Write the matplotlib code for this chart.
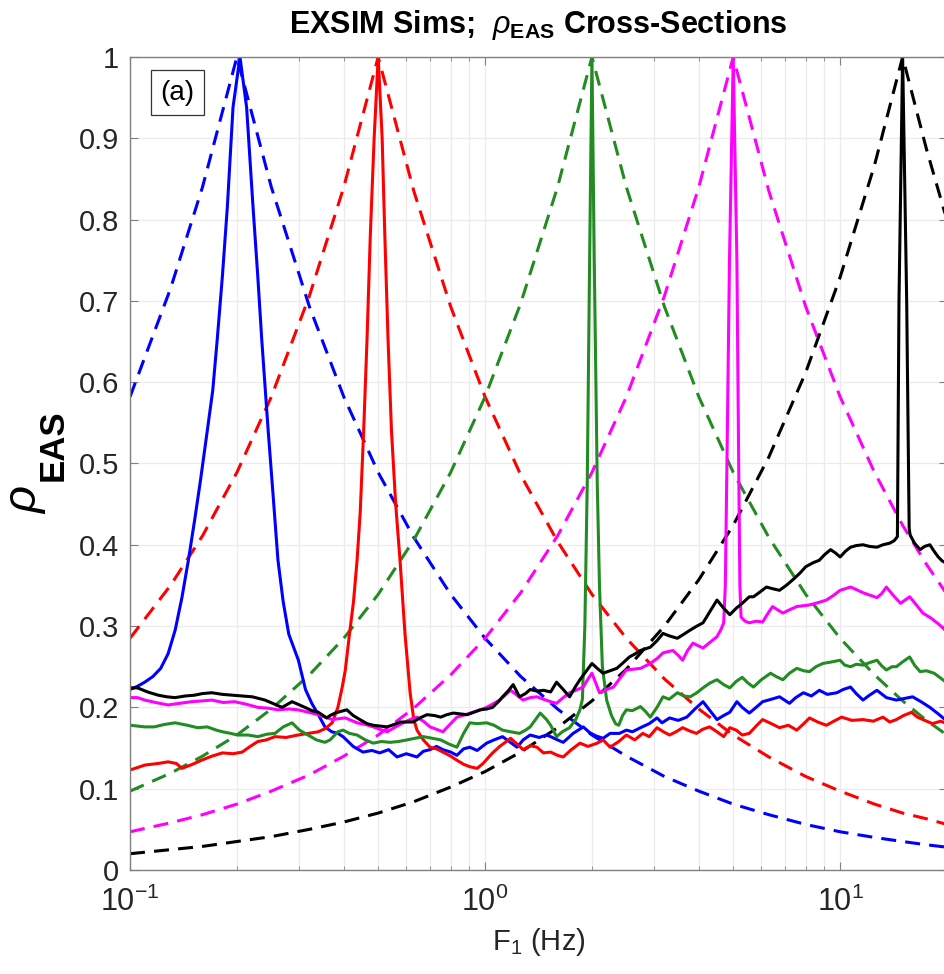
"""
EXSIM sims: rho_EAS cross-sections vs F1, dashed = model, solid = sims.
"""
import numpy as np
import matplotlib
matplotlib.use('Agg')
import matplotlib.pyplot as plt
from matplotlib.ticker import FixedLocator, LogLocator, NullFormatter

plt.rcParams['font.family'] = ['Liberation Sans', 'DejaVu Sans']
plt.rcParams['mathtext.fontset'] = 'custom'
plt.rcParams['mathtext.rm'] = 'Liberation Sans'
plt.rcParams['mathtext.it'] = 'Liberation Sans:italic'
plt.rcParams['mathtext.bf'] = 'Liberation Sans:bold'

# colours for F2 = 0.2, 0.5, 2, 5, 15 Hz
colors = ['#0000ff', '#ff0000', '#228b22', '#ff00ff', '#000000']

# dashed model curves, common frequency grid
f_model = [0.1, 0.13, 0.16, 0.2, 0.25, 0.32, 0.4, 0.5, 0.63, 0.8, 1.0, 1.26, 1.6,
           2.0, 2.5, 3.2, 4.0, 5.0, 6.3, 8.0, 10, 12.5, 15, 17.5, 20]
model_blue = [0.582, 0.715, 0.840, 1.0, 0.840, 0.693, 0.582, 0.489, 0.409, 0.339, 0.285,
              0.238, 0.198, 0.166, 0.140, 0.115, 0.097, 0.081, 0.068, 0.056, 0.047,
              0.040, 0.035, 0.031, 0.028]
model_red = [0.285, 0.350, 0.411, 0.489, 0.582, 0.706, 0.840, 1.0, 0.835, 0.693, 0.582,
             0.486, 0.404, 0.339, 0.285, 0.235, 0.198, 0.166, 0.139, 0.115, 0.097,
             0.081, 0.070, 0.063, 0.056]
model_green = [0.097, 0.119, 0.140, 0.166, 0.198, 0.240, 0.285, 0.339, 0.406, 0.489,
               0.582, 0.697, 0.840, 1.0, 0.840, 0.693, 0.582, 0.489, 0.409, 0.339,
               0.285, 0.240, 0.208, 0.184, 0.166]
model_magenta = [0.047, 0.058, 0.068, 0.081, 0.097, 0.117, 0.140, 0.166, 0.199, 0.240,
                 0.285, 0.341, 0.411, 0.489, 0.582, 0.706, 0.840, 1.0, 0.835, 0.693,
                 0.582, 0.489, 0.424, 0.376, 0.339]
model_black = [0.020, 0.025, 0.029, 0.035, 0.041, 0.050, 0.059, 0.070, 0.084, 0.102,
               0.121, 0.145, 0.175, 0.208, 0.247, 0.300, 0.357, 0.424, 0.508, 0.612,
               0.729, 0.867, 1.0, 0.887, 0.799]

# solid simulation curves
f_blue = [0.1, 0.105, 0.11, 0.116, 0.122, 0.128, 0.134, 0.14, 0.146, 0.152, 0.158, 0.165,
          0.171, 0.176, 0.182, 0.188, 0.195, 0.204, 0.213, 0.222, 0.229, 0.235, 0.245,
          0.253, 0.261, 0.27, 0.28, 0.298, 0.312, 0.325, 0.34, 0.354, 0.37, 0.385, 0.398,
          0.425, 0.453, 0.48, 0.505, 0.535, 0.565, 0.6, 0.643, 0.67, 0.70, 0.73, 0.761,
          0.80, 0.833, 0.87, 0.906, 0.95, 1.01, 1.06, 1.12, 1.17, 1.23, 1.28, 1.34, 1.42,
          1.49, 1.53, 1.6, 1.66, 1.72, 1.77, 1.83, 1.89, 1.97, 2.05, 2.15, 2.25, 2.39, 2.5,
          2.6, 2.74, 2.9, 3.05, 3.15, 3.31, 3.5, 3.7, 3.9, 4.11, 4.3, 4.5, 4.7, 4.89, 5.12,
          5.3, 5.55, 5.8, 6.05, 6.4, 6.75, 7.2, 7.5, 7.88, 8.3, 8.74, 9.2, 9.79, 10.2, 10.7,
          11.1, 11.6, 12.1, 12.7, 13.5, 14.4, 15.2, 16.0, 16.9, 17.9, 18.9, 20]
rho_blue = [0.222, 0.226, 0.231, 0.238, 0.248, 0.266, 0.295, 0.335, 0.381, 0.43, 0.48,
            0.54, 0.59, 0.652, 0.73, 0.816, 0.938, 1.0, 0.938, 0.816, 0.73, 0.652, 0.54,
            0.46, 0.381, 0.33, 0.29, 0.258, 0.222, 0.205, 0.19, 0.176, 0.17, 0.168, 0.164,
            0.152, 0.145, 0.147, 0.144, 0.148, 0.139, 0.143, 0.139, 0.146, 0.148, 0.152,
            0.148, 0.145, 0.141, 0.149, 0.151, 0.147, 0.156, 0.16, 0.164, 0.158, 0.151,
            0.16, 0.166, 0.163, 0.166, 0.164, 0.16, 0.157, 0.163, 0.168, 0.172, 0.176,
            0.169, 0.165, 0.162, 0.168, 0.168, 0.172, 0.17, 0.175, 0.18, 0.187, 0.181,
            0.187, 0.184, 0.188, 0.198, 0.207, 0.196, 0.185, 0.19, 0.194, 0.207, 0.2, 0.193,
            0.2, 0.207, 0.21, 0.213, 0.205, 0.212, 0.218, 0.214, 0.221, 0.216, 0.218, 0.222,
            0.225, 0.217, 0.209, 0.215, 0.221, 0.212, 0.209, 0.211, 0.213, 0.207, 0.2,
            0.192, 0.183]

f_red = [0.1, 0.105, 0.11, 0.12, 0.128, 0.135, 0.14, 0.15, 0.159, 0.17, 0.182, 0.195,
         0.207, 0.218, 0.229, 0.242, 0.256, 0.275, 0.297, 0.318, 0.339, 0.355, 0.371,
         0.385, 0.396, 0.404, 0.415, 0.426, 0.436, 0.445, 0.455, 0.465, 0.475, 0.487, 0.5,
         0.513, 0.522, 0.533, 0.545, 0.56, 0.576, 0.595, 0.615, 0.63, 0.643, 0.67, 0.70,
         0.73, 0.761, 0.80, 0.833, 0.87, 0.906, 0.95, 0.987, 1.02, 1.05, 1.1, 1.18, 1.23,
         1.28, 1.34, 1.40, 1.46, 1.53, 1.6, 1.66, 1.75, 1.85, 1.95, 2.07, 2.15, 2.25, 2.38,
         2.5, 2.64, 2.78, 2.9, 3.05, 3.18, 3.31, 3.45, 3.6, 3.77, 3.94, 4.1, 4.29, 4.5,
         4.7, 4.89, 5.1, 5.3, 5.55, 5.8, 6.05, 6.4, 6.75, 7.15, 7.55, 7.9, 8.2, 8.65, 9.15,
         9.6, 10.1, 10.8, 11.6, 12.4, 13.2, 13.8, 14.4, 15.1, 15.9, 16.5, 17.1, 18.2, 19.2, 20]
rho_red = [0.123, 0.126, 0.129, 0.131, 0.133, 0.131, 0.125, 0.13, 0.135, 0.14, 0.144,
           0.143, 0.145, 0.152, 0.158, 0.16, 0.164, 0.163, 0.166, 0.168, 0.17, 0.174,
           0.181, 0.2, 0.225, 0.246, 0.29, 0.33, 0.381, 0.44, 0.54, 0.652, 0.78, 0.9, 1.0,
           0.9, 0.78, 0.652, 0.54, 0.45, 0.381, 0.29, 0.218, 0.185, 0.172, 0.16, 0.151,
           0.149, 0.145, 0.14, 0.135, 0.13, 0.127, 0.125, 0.131, 0.138, 0.144, 0.152,
           0.162, 0.155, 0.148, 0.153, 0.151, 0.144, 0.145, 0.141, 0.139, 0.148, 0.156,
           0.152, 0.156, 0.16, 0.151, 0.158, 0.166, 0.16, 0.168, 0.164, 0.175, 0.17, 0.166,
           0.17, 0.175, 0.171, 0.168, 0.173, 0.176, 0.17, 0.164, 0.175, 0.172, 0.166, 0.168,
           0.177, 0.185, 0.18, 0.175, 0.178, 0.172, 0.18, 0.187, 0.182, 0.178, 0.183, 0.188,
           0.184, 0.185, 0.183, 0.188, 0.182, 0.185, 0.19, 0.194, 0.188, 0.185, 0.18,
           0.183, 0.18]

f_green = [0.1, 0.105, 0.11, 0.117, 0.125, 0.134, 0.145, 0.155, 0.165, 0.175, 0.182, 0.192,
           0.201, 0.215, 0.229, 0.243, 0.256, 0.27, 0.286, 0.3, 0.317, 0.335, 0.354, 0.366,
           0.385, 0.398, 0.415, 0.436, 0.46, 0.484, 0.51, 0.541, 0.57, 0.603, 0.635, 0.67,
           0.71, 0.75, 0.79, 0.833, 0.87, 0.906, 0.95, 1.01, 1.06, 1.12, 1.18, 1.25, 1.3,
           1.34, 1.43, 1.49, 1.53, 1.59, 1.65, 1.73, 1.8, 1.85, 1.88, 1.91, 1.94, 1.97, 2.0,
           2.03, 2.07, 2.1, 2.14, 2.2, 2.27, 2.33, 2.38, 2.44, 2.5, 2.6, 2.74, 2.83, 2.92,
           3.05, 3.17, 3.3, 3.48, 3.63, 3.78, 3.95, 4.11, 4.3, 4.5, 4.7, 4.89, 5.1, 5.3, 5.5,
           5.7, 6.0, 6.37, 6.6, 6.9, 7.2, 7.55, 7.9, 8.2, 8.55, 8.94, 9.5, 10.0, 10.3, 10.7,
           11.1, 11.6, 12.1, 12.7, 13.1, 13.5, 14.0, 14.4, 15.0, 15.7, 16.2, 16.8, 17.5,
           18.4, 19.2, 20]
rho_green = [0.178, 0.177, 0.176, 0.176, 0.179, 0.181, 0.178, 0.175, 0.176, 0.172, 0.170,
             0.168, 0.166, 0.166, 0.164, 0.167, 0.168, 0.176, 0.181, 0.172, 0.166, 0.16,
             0.157, 0.16, 0.17, 0.172, 0.168, 0.166, 0.16, 0.156, 0.158, 0.157, 0.158, 0.16,
             0.162, 0.164, 0.162, 0.16, 0.155, 0.151, 0.168, 0.181, 0.18, 0.181, 0.178,
             0.172, 0.17, 0.168, 0.172, 0.176, 0.193, 0.185, 0.178, 0.164, 0.17, 0.175,
             0.185, 0.197, 0.21, 0.3, 0.476, 0.75, 1.0, 0.75, 0.476, 0.35, 0.25, 0.209,
             0.19, 0.18, 0.178, 0.19, 0.197, 0.196, 0.201, 0.195, 0.188, 0.2, 0.213, 0.21,
             0.218, 0.214, 0.213, 0.218, 0.224, 0.23, 0.234, 0.228, 0.224, 0.232, 0.237,
             0.23, 0.225, 0.234, 0.242, 0.238, 0.234, 0.242, 0.248, 0.245, 0.244, 0.25,
             0.254, 0.256, 0.258, 0.252, 0.25, 0.253, 0.252, 0.255, 0.258, 0.251, 0.246,
             0.25, 0.25, 0.256, 0.262, 0.252, 0.244, 0.245, 0.242, 0.236, 0.23]

f_magenta = [0.1, 0.105, 0.11, 0.118, 0.128, 0.138, 0.149, 0.16, 0.17, 0.183, 0.197, 0.212,
             0.229, 0.245, 0.261, 0.28, 0.297, 0.318, 0.339, 0.355, 0.371, 0.385, 0.404,
             0.42, 0.436, 0.46, 0.484, 0.505, 0.53, 0.56, 0.588, 0.615, 0.643, 0.67, 0.70,
             0.73, 0.761, 0.8, 0.833, 0.88, 0.924, 0.97, 1.01, 1.05, 1.10, 1.14, 1.18, 1.23,
             1.28, 1.34, 1.40, 1.46, 1.53, 1.59, 1.66, 1.73, 1.8, 1.89, 1.95, 2.0, 2.05, 2.1,
             2.2, 2.3, 2.4, 2.5, 2.62, 2.74, 2.92, 3.05, 3.17, 3.38, 3.5, 3.6, 3.72, 3.85,
             4.11, 4.3, 4.5, 4.62, 4.7, 4.75, 4.8, 4.88, 5.0, 5.12, 5.18, 5.22, 5.26, 5.4,
             5.55, 5.8, 6.05, 6.25, 6.45, 6.9, 7.2, 7.55, 8.2, 8.7, 9.15, 9.6, 10.0, 10.7,
             11.1, 11.6, 12.7, 13.1, 13.5, 14.1, 14.8, 15.7, 16.4, 17.1, 18.0, 19.0, 20]
rho_magenta = [0.212, 0.212, 0.209, 0.206, 0.203, 0.205, 0.207, 0.208, 0.209, 0.206,
               0.207, 0.204, 0.2, 0.199, 0.197, 0.198, 0.197, 0.194, 0.191, 0.188, 0.185,
               0.186, 0.187, 0.184, 0.181, 0.179, 0.176, 0.173, 0.17, 0.176, 0.181, 0.185,
               0.188, 0.183, 0.176, 0.173, 0.17, 0.18, 0.188, 0.191, 0.194, 0.197, 0.2,
               0.204, 0.209, 0.215, 0.221, 0.215, 0.209, 0.212, 0.213, 0.21, 0.207, 0.205,
               0.212, 0.218, 0.221, 0.225, 0.235, 0.242, 0.23, 0.218, 0.222, 0.225, 0.236,
               0.246, 0.247, 0.248, 0.254, 0.26, 0.267, 0.27, 0.264, 0.258, 0.27, 0.279,
               0.273, 0.28, 0.287, 0.296, 0.304, 0.35, 0.5, 0.75, 1.0, 0.75, 0.5, 0.35,
               0.311, 0.306, 0.304, 0.306, 0.305, 0.315, 0.324, 0.316, 0.32, 0.324, 0.326,
               0.329, 0.332, 0.338, 0.344, 0.348, 0.345, 0.341, 0.335, 0.34, 0.348, 0.338,
               0.328, 0.336, 0.326, 0.316, 0.31, 0.302, 0.293]

f_black = [0.1, 0.105, 0.112, 0.12, 0.127, 0.134, 0.143, 0.152, 0.16, 0.17, 0.182, 0.194,
           0.207, 0.221, 0.24, 0.255, 0.268, 0.286, 0.3, 0.311, 0.325, 0.339, 0.358, 0.366,
           0.378, 0.392, 0.408, 0.425, 0.444, 0.465, 0.484, 0.505, 0.53, 0.555, 0.576, 0.6,
           0.627, 0.655, 0.686, 0.72, 0.75, 0.78, 0.814, 0.85, 0.89, 0.93, 0.97, 1.01, 1.05,
           1.09, 1.12, 1.16, 1.20, 1.25, 1.3, 1.34, 1.40, 1.46, 1.53, 1.59, 1.66, 1.73, 1.8,
           1.85, 1.93, 2.0, 2.07, 2.15, 2.25, 2.35, 2.45, 2.55, 2.65, 2.74, 2.92, 3.05, 3.17,
           3.3, 3.48, 3.63, 3.78, 3.95, 4.11, 4.3, 4.5, 4.7, 4.89, 5.1, 5.3, 5.55, 5.7, 5.95,
           6.2, 6.45, 6.75, 7.05, 7.36, 7.7, 8.0, 8.4, 8.74, 9.05, 9.4, 9.7, 10.0, 10.35,
           10.7, 11.1, 11.6, 12.1, 12.7, 13.2, 13.8, 14.2, 14.5, 14.65, 15.0, 15.4, 15.65,
           15.75, 16.2, 16.8, 17.3, 17.9, 18.4, 18.9, 19.4, 20]
rho_black = [0.224, 0.224, 0.219, 0.215, 0.213, 0.212, 0.214, 0.215, 0.217, 0.218, 0.216,
             0.215, 0.214, 0.213, 0.209, 0.204, 0.2, 0.207, 0.203, 0.2, 0.196, 0.194,
             0.187, 0.19, 0.193, 0.195, 0.197, 0.19, 0.185, 0.18, 0.178, 0.177, 0.176,
             0.179, 0.182, 0.182, 0.182, 0.187, 0.191, 0.19, 0.188, 0.191, 0.193, 0.192,
             0.191, 0.194, 0.197, 0.198, 0.2, 0.207, 0.213, 0.22, 0.228, 0.213, 0.217,
             0.222, 0.22, 0.221, 0.219, 0.231, 0.222, 0.213, 0.226, 0.234, 0.245, 0.254,
             0.248, 0.242, 0.245, 0.248, 0.255, 0.262, 0.266, 0.27, 0.274, 0.282, 0.291,
             0.288, 0.285, 0.29, 0.295, 0.3, 0.304, 0.318, 0.332, 0.322, 0.314, 0.322, 0.328,
             0.336, 0.336, 0.342, 0.348, 0.346, 0.344, 0.35, 0.357, 0.365, 0.373, 0.378,
             0.381, 0.388, 0.394, 0.39, 0.385, 0.392, 0.397, 0.399, 0.4, 0.398, 0.397, 0.4,
             0.402, 0.405, 0.41, 0.7, 1.0, 0.7, 0.42, 0.412, 0.402, 0.394, 0.398, 0.4, 0.392,
             0.385, 0.38, 0.377]

models = [model_blue, model_red, model_green, model_magenta, model_black]
sims = [(f_blue, rho_blue), (f_red, rho_red), (f_green, rho_green),
        (f_magenta, rho_magenta), (f_black, rho_black)]

fig = plt.figure(figsize=(9.45, 9.74), dpi=100)
ax = fig.add_axes([0.1376, 0.1068, 0.8645, 0.8347])

lw = 2.2
for c, m in zip(colors, models):
    ax.plot(f_model, m, color=c, lw=lw, dashes=(4.9, 3.0))
for c, (f, r) in zip(colors, sims):
    ax.plot(f, r, color=c, lw=lw)

ax.set_xscale('log')
ax.set_xlim(0.1, 20)
ax.set_ylim(0, 1)
ax.set_yticks(np.arange(0, 1.01, 0.1))
ax.set_yticklabels(['0', '0.1', '0.2', '0.3', '0.4', '0.5', '0.6', '0.7', '0.8', '0.9', '1'])
ax.xaxis.set_major_locator(FixedLocator([0.1, 1, 10]))
ax.set_xticklabels(['$10^{-1}$', '$10^{0}$', '$10^{1}$'])
ax.xaxis.set_minor_locator(LogLocator(base=10, subs=np.arange(2, 10)))
ax.xaxis.set_minor_formatter(NullFormatter())

ax.grid(True, which='both', color='#ebebeb', lw=0.9)
ax.set_axisbelow(True)
ax.tick_params(which='both', direction='in', top=True, right=True, color='#808080',
               labelcolor='#262626')
ax.tick_params(axis='y', labelsize=21, pad=8)
ax.tick_params(axis='x', labelsize=22, pad=12)
ax.tick_params(which='major', length=6)
ax.tick_params(which='minor', length=3)
for s in ax.spines.values():
    s.set_color('#808080')
    s.set_linewidth(1.0)

ax.set_xlabel('F$_1$ (Hz)', fontsize=21, color='#262626', labelpad=6)

# y label: italic rho with a large bold subscript
fig.text(37 / 945, 1 - 500 / 974, '\u03c1', fontsize=34, fontstyle='italic',
         rotation=90, rotation_mode='anchor', ha='center', va='baseline')
fig.text(63 / 945, 1 - 445 / 974, 'EAS', fontsize=25, fontweight='bold',
         rotation=90, rotation_mode='anchor', ha='center', va='baseline')

ax.set_title(r'EXSIM Sims;  $\rho_{\mathbf{EAS}}$ Cross-Sections', fontsize=22,
             fontweight='bold', pad=17)

ax.text(0.037, 0.972, '(a)', transform=ax.transAxes, fontsize=20, va='top', ha='left',
        bbox=dict(boxstyle='square,pad=0.35', fc='white', ec='#333333', lw=0.9))

fig.savefig('out.png', dpi=100)
